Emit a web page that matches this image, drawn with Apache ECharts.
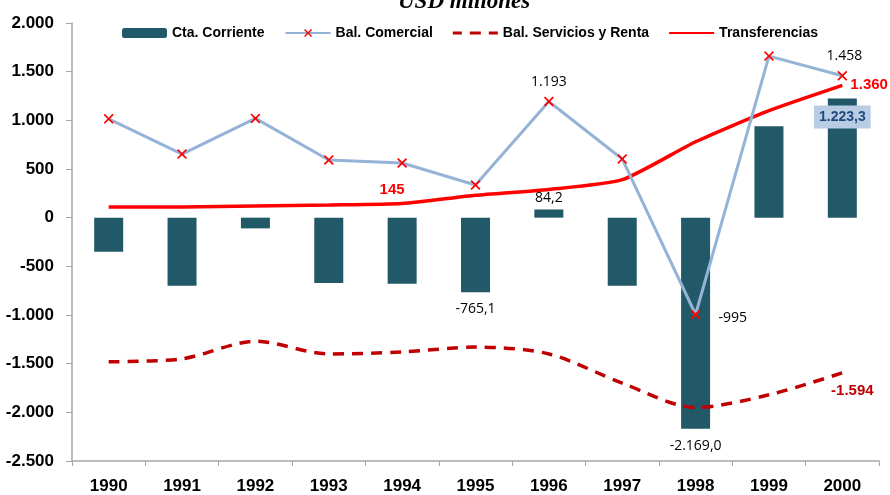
<!DOCTYPE html>
<html><head><meta charset="utf-8">
<script src="https://cdn.jsdelivr.net/npm/echarts@6/dist/echarts.min.js"></script>
<style>html,body{margin:0;padding:0;background:#fff}#c{width:890px;height:495px}</style>
</head><body><div id="c"></div>
<script>
const years = ['1990','1991','1992','1993','1994','1995','1996','1997','1998','1999','2000'];
const ctaCorriente = [-350, -700, -110, -670, -680, -765.1, 84.2, -700, -2169.0, 940, 1223.3];
const balComercial = [1015, 653, 1020, 592, 562, 336, 1193, 603, -995, 1660, 1458];
const balServicios = [-1480, -1450, -1270, -1400, -1380, -1330, -1400, -1700, -1950, -1820, -1594];
const transferencias = [110, 110, 120, 130, 145, 230, 290, 390, 780, 1100, 1360];
const yTicks = {min: -2500, max: 2000, interval: 500};

function fmtNum(v, dec) {
  const neg = v < 0; v = Math.abs(v);
  let s = v.toFixed(dec);
  let [ip, dp] = s.split('.');
  ip = ip.replace(/\B(?=(\d{3})+(?!\d))/g, '.');
  return (neg ? '-' : '') + ip + (dp ? ',' + dp : '');
}

const narrow = '"Liberation Sans Narrow","Arial Narrow","Liberation Sans",sans-serif';
const plain = '"Open Sans","Liberation Sans",sans-serif';
const blackLbl = {show: true, color: '#000', fontFamily: plain, fontSize: 14};

const barLabels = {
  5: Object.assign({}, blackLbl, {position: 'bottom', distance: 10, formatter: () => fmtNum(ctaCorriente[5], 1)}),
  6: Object.assign({}, blackLbl, {position: 'top', distance: 4, formatter: () => fmtNum(ctaCorriente[6], 1)}),
  8: Object.assign({}, blackLbl, {position: 'bottom', distance: 10, formatter: () => fmtNum(ctaCorriente[8], 1)}),
  10: {show: true, position: 'insideTop', distance: 7, color: '#1f497d', fontWeight: 'bold', fontFamily: '"Liberation Sans",sans-serif', fontSize: 14,
       backgroundColor: '#b8cce4', padding: [5, 5, 4, 5], formatter: () => fmtNum(ctaCorriente[10], 1)}
};
const comLabels = {
  6: Object.assign({}, blackLbl, {position: 'top', distance: 8, formatter: () => fmtNum(balComercial[6], 0)}),
  8: Object.assign({}, blackLbl, {position: 'right', distance: 18, offset: [0, 4], formatter: () => fmtNum(balComercial[8], 0)}),
  10: Object.assign({}, blackLbl, {position: 'top', distance: 8, offset: [2, 0], formatter: () => fmtNum(balComercial[10], 0)})
};
const redBold = {show: true, fontWeight: 'bold', fontFamily: narrow, fontSize: 15};
const serLabels = {
  10: Object.assign({}, redBold, {color: '#c00000', position: 'bottom', distance: 6, offset: [10, 4], formatter: () => fmtNum(balServicios[10], 0)})
};
const trLabels = {
  4: Object.assign({}, redBold, {color: '#ff0000', position: 'top', distance: 6, offset: [-10, 0], formatter: () => fmtNum(transferencias[4], 0)}),
  10: Object.assign({}, redBold, {color: '#ff0000', position: 'right', distance: 8, offset: [0, 0], formatter: () => fmtNum(transferencias[10], 0)})
};
function build(arr, labels) {
  return arr.map((v, i) => labels[i] ? {value: v, label: labels[i]} : v);
}
const xMark = 'path://M0,1.2L1.2,0L5,3.8L8.8,0L10,1.2L6.2,5L10,8.8L8.8,10L5,6.2L1.2,10L0,8.8L3.8,5Z';
const lineIcon = 'path://M0,4L45,4L45,6L0,6Z';
const dashIcon = 'path://M0,3.5L9,3.5L9,6.5L0,6.5ZM17,3.5L28,3.5L28,6.5L17,6.5ZM36,3.5L45,3.5L45,6.5L36,6.5Z';

const chart = echarts.init(document.getElementById('c'));
chart.setOption({
  animation: false,
  backgroundColor: '#fff',
  title: {text: 'USD millones', left: 393, top: -14,
    textStyle: {fontFamily: '"Liberation Serif","Times New Roman",serif', fontStyle: 'italic', fontWeight: 'bold', fontSize: 23, color: '#000'}},
  legend: {top: 21, left: 117, itemWidth: 45, itemHeight: 10, itemGap: 20,
    textStyle: {fontFamily: narrow, fontWeight: 'bold', fontSize: 14, color: '#000'},
    data: [
      {name: 'Cta. Corriente'},
      {name: 'Bal. Comercial'},
      {name: 'Bal. Servicios y Renta', icon: dashIcon, itemStyle: {color: '#c00000', opacity: 1}},
      {name: 'Transferencias', icon: lineIcon, itemStyle: {color: '#ff0000', opacity: 1}}
    ]},
  grid: {left: 72, right: 11, top: 23, bottom: 34, containLabel: false},
  xAxis: [
    {type: 'category', data: years, position: 'bottom', axisLine: {show: false}, axisTick: {show: false},
     axisLabel: {margin: 17, fontFamily: narrow, fontWeight: 'bold', fontSize: 17, color: '#000'}},
    {type: 'category', data: years, position: 'bottom', axisLine: {show: true, onZero: true, lineStyle: {color: '#a6a6a6', width: 1.5}},
     axisTick: {show: true, inside: false, length: 5, lineStyle: {color: '#a6a6a6'}}, axisLabel: {show: false}}
  ],
  yAxis: {type: 'value', min: yTicks.min, max: yTicks.max, interval: yTicks.interval,
    axisLine: {show: true, lineStyle: {color: '#a6a6a6', width: 1.5}},
    axisTick: {show: true, length: 6, lineStyle: {color: '#a6a6a6'}},
    splitLine: {show: false},
    axisLabel: {margin: 18, fontFamily: narrow, fontWeight: 'bold', fontSize: 17, color: '#000', formatter: v => fmtNum(v, 0)}},
  series: [
    {name: 'Cta. Corriente', type: 'bar', barWidth: 29, data: build(ctaCorriente, barLabels),
     itemStyle: {color: '#215968'}, z: 1},
    {name: 'Bal. Comercial', type: 'line', data: build(balComercial, comLabels), symbol: xMark, symbolSize: 10,
     lineStyle: {color: '#95b3d7', width: 3}, itemStyle: {color: '#ff0000'}, z: 3},
    {name: 'Bal. Servicios y Renta', type: 'line', smooth: 0.3, data: build(balServicios, serLabels), symbol: 'circle', symbolSize: 0.1,
     lineStyle: {color: '#c00000', width: 3.5, type: [11, 8]}, itemStyle: {color: '#c00000'}, z: 2},
    {name: 'Transferencias', type: 'line', smooth: 0.2, data: build(transferencias, trLabels), symbol: 'circle', symbolSize: 0.1,
     lineStyle: {color: '#ff0000', width: 3.5}, itemStyle: {color: '#ff0000'}, z: 2}
  ]
});
</script></body></html>
